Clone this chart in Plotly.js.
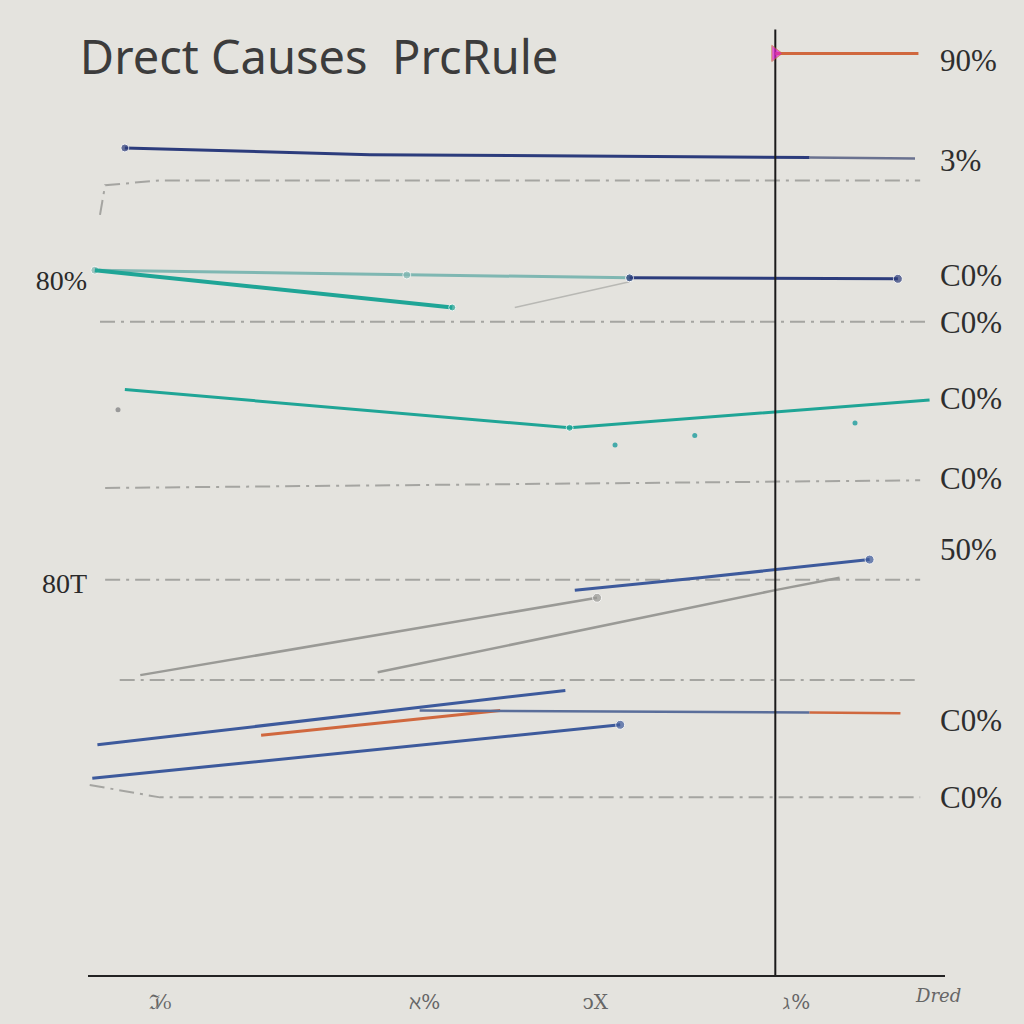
<!DOCTYPE html>
<html>
<head>
<meta charset="utf-8">
<script src="https://cdn.plot.ly/plotly-3.0.1.min.js"></script>
<style>html,body{margin:0;padding:0;background:#e4e3de;}#chart{width:1024px;height:1024px;}</style>
</head>
<body>
<div id="chart"></div>
<script>
// ---- data (x: 0-100 scale, y: 0-100 %) ----
const titleText = "Drect Causes  PrcRule";
const xTickVals = [8.4, 39.3, 59.2, 82.7];
const xTickText = ["ℑ⁄₀", "ℵ%", "ↄX", "ℷ%"];
const xExtraLabel = "Dred";
const leftTickVals = [72.8, 41.0];
const leftTickText = ["80%", "80T"];
const rightTickVals = [95.8, 85.3, 73.3, 68.4, 60.4, 52.0, 44.6, 26.7, 18.6];
const rightTickText = ["90%", "3%", "C0%", "C0%", "C0%", "C0%", "50%", "C0%", "C0%"];

// solid series
const navyTopX = [4.3, 32.9, 84.2];
const navyTopY = [86.6, 85.9, 85.6];
const navyTopTailX = [84.2, 96.5];
const navyTopTailY = [85.6, 85.5];
const tealPaleX = [0.8, 37.2, 63.2];
const tealPaleY = [73.8, 73.3, 73.0];
const navyMidX = [63.2, 94.5];
const navyMidY = [73.0, 72.9];
const tealShortX = [0.8, 42.5];
const tealShortY = [73.8, 69.9];
const tealLongX = [4.3, 56.2, 98.2];
const tealLongY = [61.3, 57.3, 60.2];
const tealDotsX = [3.5, 61.5, 70.8, 89.5];
const tealDotsY = [59.2, 55.5, 56.5, 57.8];
const blueUpX = [56.8, 71.4, 91.2];
const blueUpY = [40.3, 41.6, 43.5];
const grayUpAX = [6.1, 59.4];
const grayUpAY = [31.4, 39.5];
const grayUpBX = [33.8, 80.2, 87.7];
const grayUpBY = [31.7, 40.3, 41.6];
const blueLowAX = [1.1, 55.7];
const blueLowAY = [24.1, 29.8];
const orangeLowX = [20.2, 48.1];
const orangeLowY = [25.1, 27.7];
const blueFlatX = [38.7, 84.2];
const blueFlatY = [27.7, 27.5];
const orangeFlatX = [84.2, 94.8];
const orangeFlatY = [27.5, 27.4];
const blueBottomX = [0.5, 62.1];
const blueBottomY = [20.6, 26.2];
const orangeTopX = [80.2, 96.9];
const orangeTopY = [96.5, 96.5];
const ruleX = [80.2, 80.2];
const ruleY = [0, 99.0];

// dashed gray guides
const guideA_X = [1.4, 2.0, 8.4, 97.1];
const guideA_Y = [79.6, 82.7, 83.2, 83.2];
const guideB_X = [1.4, 97.7];
const guideB_Y = [68.4, 68.4];
const guideC_X = [2.0, 97.1];
const guideC_Y = [51.0, 51.8];
const guideD_X = [2.0, 64.4, 97.1];
const guideD_Y = [41.4, 41.4, 41.4];
const guideE_X = [3.7, 97.1];
const guideE_Y = [30.9, 30.9];
const guideF_X = [0.2, 8.4, 97.1];
const guideF_Y = [19.9, 18.6, 18.6];
const faintX = [49.8, 63.2];
const faintY = [69.9, 72.6];

const navy = "#2c3c7c", teal = "#1fa596", tealPale = "#7fb7b2", blue = "#3d5a9c",
      gray = "#9a9a96", orange = "#d0683e", pink = "#e020d0";

function line(x, y, color, width, extra) {
  return Object.assign({type: "scatter", mode: "lines", x: x, y: y, showlegend: false,
    hoverinfo: "skip", line: {color: color, width: width}}, extra || {});
}
function dashed(x, y) {
  return line(x, y, gray, 2, {line: {color: gray, width: 2, dash: "longdashdot"}, opacity: 0.85});
}

const traces = [
  dashed(guideA_X, guideA_Y), dashed(guideB_X, guideB_Y), dashed(guideC_X, guideC_Y),
  dashed(guideD_X, guideD_Y), dashed(guideE_X, guideE_Y), dashed(guideF_X, guideF_Y),
  line(faintX, faintY, "#b8b8b4", 1.5),
  line(navyTopX, navyTopY, navy, 3, {mode: "lines+markers", marker: {size: [8, 0, 0], color: navy}}),
  line(navyTopTailX, navyTopTailY, "#6a7290", 2.5),
  line(tealPaleX, tealPaleY, tealPale, 3, {mode: "lines+markers", marker: {size: [8, 8, 8], color: tealPale}}),
  line(navyMidX, navyMidY, navy, 3, {mode: "lines+markers", marker: {size: [8, 9], color: navy}}),
  line(tealShortX, tealShortY, teal, 4, {mode: "lines+markers", marker: {size: [0, 7], color: teal}}),
  line(tealLongX, tealLongY, teal, 3, {mode: "lines+markers", marker: {size: [0, 7, 0], color: teal}}),
  {type: "scatter", mode: "markers", x: tealDotsX, y: tealDotsY, showlegend: false, hoverinfo: "skip",
   marker: {size: 5, color: ["#999", "#4aa", "#4aa", "#4aa"]}},
  line(grayUpAX, grayUpAY, gray, 2.5, {mode: "lines+markers", marker: {size: [0, 9], color: gray}}),
  line(grayUpBX, grayUpBY, gray, 2.5),
  line(blueUpX, blueUpY, blue, 3, {mode: "lines+markers", marker: {size: [0, 0, 9], color: blue}}),
  line(blueLowAX, blueLowAY, blue, 3),
  line(orangeLowX, orangeLowY, orange, 3),
  line(blueFlatX, blueFlatY, "#5a6e9a", 2.5),
  line(orangeFlatX, orangeFlatY, orange, 2.5),
  line(blueBottomX, blueBottomY, blue, 3, {mode: "lines+markers", marker: {size: [0, 9], color: blue}}),
  line(ruleX, ruleY, "#1a1a1a", 2),
  line(orangeTopX, orangeTopY, orange, 3, {mode: "lines+markers", marker: {size: [14, 0], color: pink, symbol: "triangle-right"}}),
  {type: "scatter", mode: "markers", x: [0], y: [rightTickVals[0]], yaxis: "y2", showlegend: false,
   hoverinfo: "skip", marker: {size: 0.1, opacity: 0}}
];

const layout = {
  width: 1024, height: 1024,
  paper_bgcolor: "#e4e3de", plot_bgcolor: "#e4e3de",
  margin: {l: 88, r: 79, t: 20, b: 49},
  title: {text: titleText, x: 0.078, xanchor: "left", y: 0.944, yanchor: "middle",
    font: {family: "Noto Sans", size: 47, color: "#3c3c3c"}},
  xaxis: {range: [0, 100], showgrid: false, zeroline: false, showline: true,
    linecolor: "#222", linewidth: 2, tickvals: xTickVals, ticktext: xTickText, ticks: "",
    tickfont: {family: "DejaVu Serif", size: 20, color: "#666"}, ticklabelstandoff: 8},
  yaxis: {range: [0, 100], showgrid: false, zeroline: false, showline: false,
    tickvals: leftTickVals, ticktext: leftTickText, ticks: "",
    tickfont: {family: "Liberation Serif", size: 28, color: "#2a2a2a"}},
  yaxis2: {range: [0, 100], overlaying: "y", side: "right", showgrid: false, zeroline: false,
    showline: false, tickvals: rightTickVals, ticktext: rightTickText, ticks: "",
    tickfont: {family: "Liberation Serif", size: 31, color: "#2e2e2e"}, ticklabelstandoff: -6},
  annotations: [{text: "<i>" + xExtraLabel + "</i>", xref: "paper", yref: "paper", x: 1.021, y: 0, yshift: -33,
    showarrow: false, font: {family: "DejaVu Serif", size: 18, color: "#666"}}]
};

Plotly.newPlot("chart", traces, layout, {displayModeBar: false, staticPlot: true});
</script>
</body>
</html>
